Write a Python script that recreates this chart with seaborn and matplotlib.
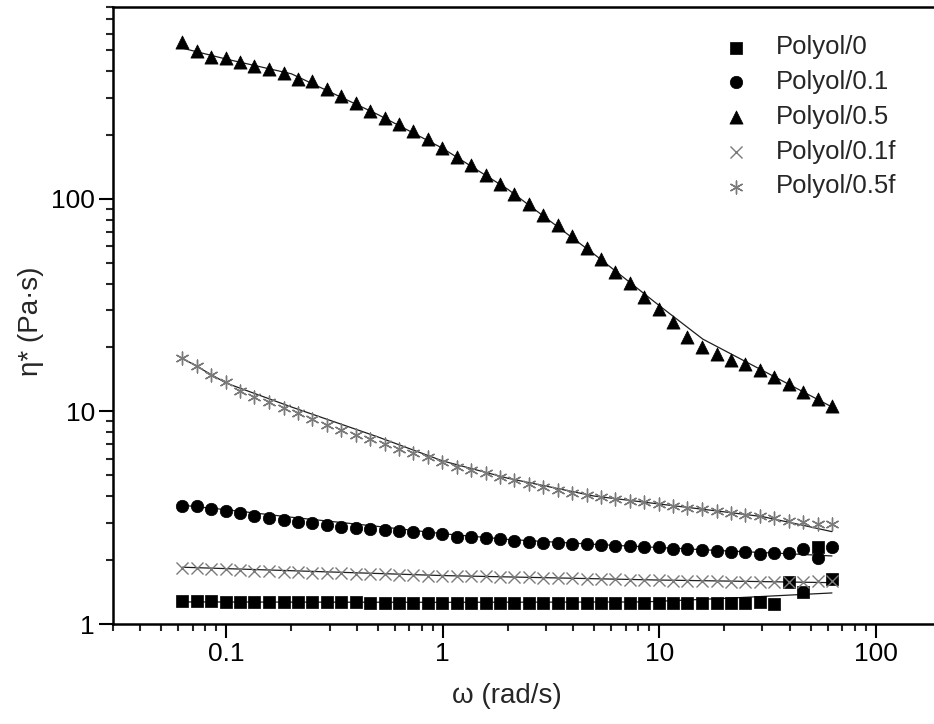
import numpy as np
import pandas as pd
import matplotlib
matplotlib.use("Agg")
import matplotlib.pyplot as plt
import seaborn as sns
from matplotlib.ticker import LogLocator, FuncFormatter, NullFormatter

# ---------------- data ----------------
omega = [0.0628, 0.0732, 0.0854, 0.0995, 0.116, 0.135, 0.158, 0.184, 0.214, 0.250,
         0.292, 0.340, 0.396, 0.462, 0.539, 0.628, 0.732, 0.854, 0.995, 1.16,
         1.35, 1.58, 1.84, 2.14, 2.50, 2.92, 3.40, 3.96, 4.62, 5.39,
         6.28, 7.32, 8.54, 9.95, 11.6, 13.5, 15.8, 18.4, 21.4, 25.0,
         29.2, 34.0, 39.6, 46.2, 53.9, 62.8]

eta_p0 = [1.28, 1.28, 1.28, 1.27, 1.27, 1.27, 1.27, 1.27, 1.27, 1.27,
          1.27, 1.27, 1.27, 1.26, 1.26, 1.26, 1.26, 1.26, 1.26, 1.26,
          1.26, 1.26, 1.26, 1.26, 1.26, 1.26, 1.26, 1.26, 1.26, 1.26,
          1.26, 1.26, 1.26, 1.26, 1.26, 1.26, 1.26, 1.26, 1.26, 1.26,
          1.27, 1.24, 1.58, 1.42, 2.30, 1.62]

eta_p01 = [3.60, 3.60, 3.46, 3.40, 3.32, 3.23, 3.14, 3.09, 3.03, 2.98,
           2.92, 2.87, 2.84, 2.80, 2.77, 2.74, 2.70, 2.67, 2.64, 2.58,
           2.56, 2.53, 2.50, 2.47, 2.44, 2.41, 2.40, 2.38, 2.37, 2.35,
           2.34, 2.33, 2.31, 2.30, 2.25, 2.25, 2.23, 2.21, 2.17, 2.17,
           2.14, 2.15, 2.15, 2.25, 2.04, 2.30]

eta_p05 = [550, 499, 467, 459, 443, 423, 408, 391, 367, 357,
           329, 306, 282, 259, 241, 225, 209, 191, 173, 158,
           144, 130, 117, 106, 94.7, 84.1, 75.5, 67.0, 58.6, 52.0,
           45.5, 40.1, 34.7, 30.3, 26.5, 22.5, 20.1, 18.6, 17.5, 16.7,
           15.6, 14.6, 13.5, 12.4, 11.5, 10.6]

eta_p01f = [1.84, 1.83, 1.82, 1.81, 1.80, 1.78, 1.78, 1.76, 1.75, 1.74,
            1.73, 1.73, 1.72, 1.72, 1.71, 1.70, 1.70, 1.69, 1.69, 1.68,
            1.68, 1.68, 1.67, 1.67, 1.66, 1.65, 1.64, 1.64, 1.63, 1.62,
            1.62, 1.61, 1.61, 1.61, 1.60, 1.60, 1.59, 1.59, 1.58, 1.58,
            1.58, 1.58, 1.58, 1.57, 1.59, 1.59]

eta_p05f = [17.8, 16.4, 14.9, 13.7, 12.5, 11.7, 11.1, 10.4, 9.81, 9.25,
            8.64, 8.18, 7.75, 7.40, 7.01, 6.64, 6.36, 6.09, 5.80, 5.50,
            5.31, 5.12, 4.94, 4.76, 4.56, 4.40, 4.27, 4.12, 4.05, 3.95,
            3.88, 3.80, 3.74, 3.67, 3.59, 3.53, 3.46, 3.40, 3.34, 3.26,
            3.22, 3.14, 3.06, 3.01, 2.96, 2.94]

# fitted curves (thin lines)
fit_w_p0 = [0.0628, 1.0, 8.5, 20.0, 62.8]
fit_p0 = [1.27, 1.265, 1.27, 1.32, 1.40]

fit_w_p01 = [0.0628, 0.1, 0.2, 0.5, 1.0, 2.0, 5.0, 10.0, 20.0, 40.0, 62.8]
fit_p01 = [3.62, 3.45, 3.18, 2.88, 2.66, 2.50, 2.37, 2.29, 2.21, 2.14, 2.09]

fit_w_p05 = [0.0628, 0.1, 0.2, 0.5, 1.0, 2.0, 5.0, 10.0, 15.9, 62.8]
fit_p05 = [512, 455, 388, 250, 173, 111, 55, 31.5, 21.9, 10.5]

fit_w_p01f = [0.0628, 1.0, 10.0, 62.8]
fit_p01f = [1.85, 1.69, 1.61, 1.565]

fit_w_p05f = [0.0628, 0.1, 0.2, 0.5, 1.0, 2.0, 5.0, 10.0, 20.0, 30.0, 45.0, 62.8]
fit_p05f = [17.8, 13.6, 10.5, 7.6, 5.85, 4.85, 4.0, 3.67, 3.37, 3.20, 2.93, 2.72]

labels = ["Polyol/0", "Polyol/0.1", "Polyol/0.5", "Polyol/0.1f", "Polyol/0.5f"]
x_ticks = [0.1, 1, 10, 100]
y_ticks = [1, 10, 100]

# ---------------- style ----------------
sns.set_style("ticks")
plt.rcParams['font.family'] = ['Liberation Sans', 'DejaVu Sans']

fig = plt.figure(figsize=(9.34, 7.24), dpi=100)
ax = fig.add_axes([113 / 934, 100 / 724, 866 / 934, 617 / 724])
ax.set_xscale('log')
ax.set_yscale('log')

fit_color = '#1e1e1e'
for w, v in [(fit_w_p0, fit_p0), (fit_w_p01, fit_p01), (fit_w_p05, fit_p05),
             (fit_w_p01f, fit_p01f), (fit_w_p05f, fit_p05f)]:
    sns.lineplot(x=w, y=v, ax=ax, color=fit_color, linewidth=0.9,
                 estimator=None, sort=False, zorder=2)

gray = '#7a7a7a'
specs = [
    (eta_p0, labels[0], 's', 'black', 70),
    (eta_p01, labels[1], 'o', 'black', 80),
    (eta_p05, labels[2], '^', 'black', 90),
    (eta_p01f, labels[3], 'x', gray, 75),
    (eta_p05f, labels[4], (6, 2, 0), gray, 85),
]
for vals, lab, mk, col, s in specs:
    if mk in ('s', 'o', '^'):
        sns.scatterplot(x=omega, y=vals, ax=ax, marker=mk, color=col, s=s,
                        edgecolor=col, linewidth=0.5, label=lab, zorder=3)
    else:
        sns.scatterplot(x=omega, y=vals, ax=ax, marker=mk, color=col, s=s,
                        linewidth=1.0, label=lab, zorder=3)

ax.set_xticks(x_ticks)
ax.set_yticks(y_ticks)
ax.xaxis.set_minor_locator(LogLocator(base=10, subs=np.arange(2, 10)))
ax.yaxis.set_minor_locator(LogLocator(base=10, subs=np.arange(2, 10)))
fmt = FuncFormatter(lambda v, p: f"{v:g}")
ax.xaxis.set_major_formatter(fmt)
ax.yaxis.set_major_formatter(fmt)
ax.xaxis.set_minor_formatter(NullFormatter())
ax.yaxis.set_minor_formatter(NullFormatter())
ax.set_xlim(0.03, 300)
ax.set_ylim(1, 800)

for side in ['left', 'bottom', 'top']:
    ax.spines[side].set_visible(True)
    ax.spines[side].set_linewidth(1.8)
    ax.spines[side].set_color('black')
ax.spines['right'].set_visible(False)

ax.tick_params(which='major', direction='out', length=10, width=1.5,
               labelsize=19, pad=3, colors='black', top=False, right=False)
ax.tick_params(which='minor', direction='out', length=5, width=1.5,
               top=False, right=False)

ax.set_xlabel("ω (rad/s)", fontsize=20)
ax.set_ylabel("η* (Pa·s)", fontsize=20)
ax.xaxis.set_label_coords((507 - 113) / 866, -0.096)
ax.yaxis.set_label_coords(-0.080, 0.49)

leg = ax.legend(loc='upper left', bbox_to_anchor=(708 / 934, 1 - 25 / 724),
                bbox_transform=fig.transFigure, frameon=False, fontsize=18.5,
                handletextpad=0.85, labelspacing=0.42, borderaxespad=0,
                handlelength=1.4)

fig.savefig("out.png", dpi=100)
